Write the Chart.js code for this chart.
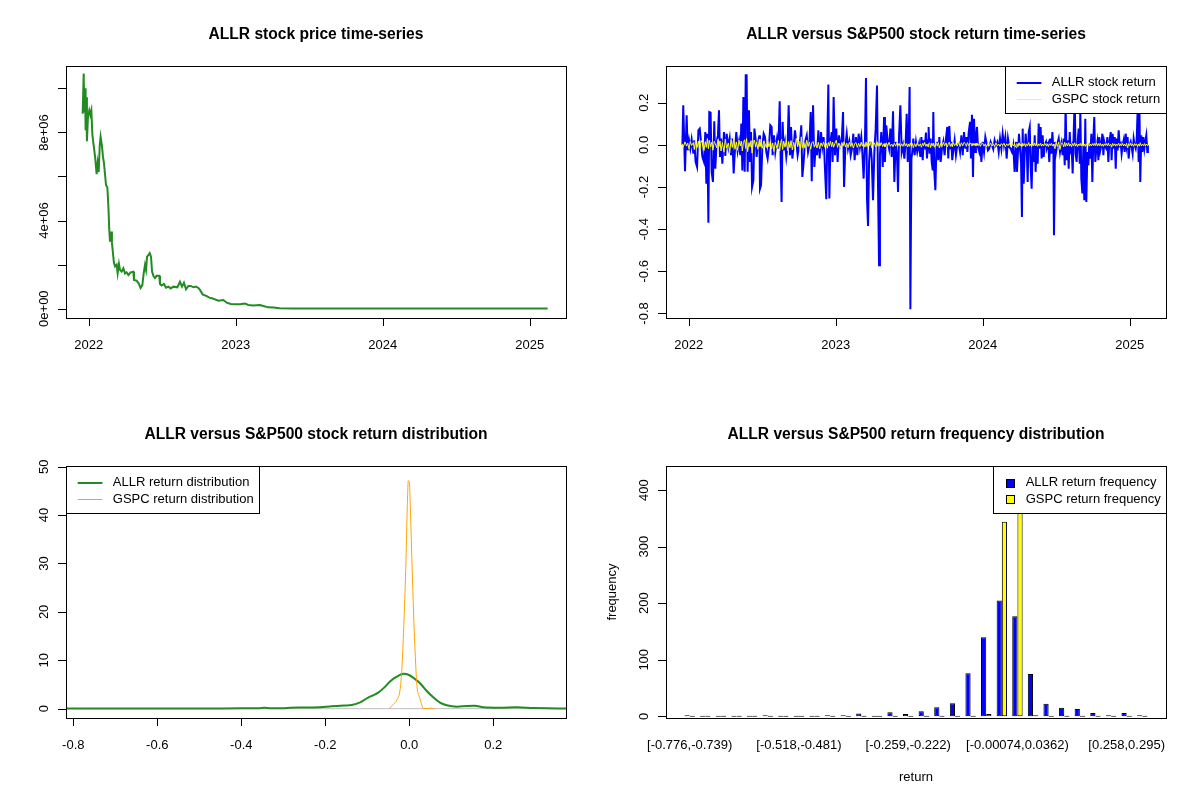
<!DOCTYPE html>
<html><head><meta charset="utf-8">
<script src="https://cdn.jsdelivr.net/npm/chart.js@4.4.1/dist/chart.umd.min.js"></script>
<style>
html,body{margin:0;padding:0;background:#fff;}
#wrap{position:relative;width:1200px;height:800px;background:#fff;overflow:hidden;}
canvas{position:absolute;}
</style></head><body>
<div id="wrap">
<canvas id="c1" width="600" height="400" style="left:0;top:0"></canvas>
<canvas id="c2" width="600" height="400" style="left:600px;top:0"></canvas>
<canvas id="c3" width="600" height="400" style="left:0;top:400px"></canvas>
<canvas id="c4" width="600" height="400" style="left:600px;top:400px"></canvas>
</div>
<script>
// ---------------- DATA ----------------
const titles = ['ALLR stock price time-series', 'ALLR versus S&P500 stock return time-series',
  'ALLR versus S&P500 stock return distribution', 'ALLR versus S&P500 return frequency distribution'];

// Panel 1: ALLR price (decimal year, price)
const priceYears = [2021.959,2021.966,2021.970,2021.975,2021.979,2021.984,2021.988,2021.995,2022.004,2022.011,
 2022.018,2022.025,2022.032,2022.038,2022.045,2022.054,2022.061,2022.068,2022.075,2022.081,
 2022.090,2022.097,2022.104,2022.111,2022.118,2022.127,2022.134,2022.140,2022.145,2022.152,
 2022.158,2022.165,2022.172,2022.179,2022.190,2022.197,2022.206,2022.213,2022.224,2022.236,
 2022.247,2022.258,2022.270,2022.285,2022.304,2022.308,2022.326,2022.340,2022.353,2022.365,
 2022.374,2022.383,2022.390,2022.397,2022.406,2022.415,2022.424,2022.431,2022.440,2022.451,
 2022.462,2022.480,2022.485,2022.496,2022.512,2022.526,2022.542,2022.558,2022.576,2022.603,
 2022.621,2022.635,2022.648,2022.662,2022.678,2022.694,2022.712,2022.730,2022.746,2022.757,
 2022.775,2022.803,2022.821,2022.839,2022.859,2022.882,2022.916,2022.939,2022.966,2022.995,
 2023.029,2023.063,2023.086,2023.120,2023.165,2023.188,2023.222,2023.257,2023.297,2023.393,
 2023.619,2024.073,2024.526,2025.122];
const priceValues = [8850000,10670000,8900000,10000000,8100000,9600000,7600000,8700000,9000000,8800000,
 9000000,7900000,7500000,7200000,6800000,6100000,6600000,6200000,7400000,7800000,
 7400000,6900000,6600000,6100000,5600000,5500000,4640000,3580000,3040000,3500000,
 3000000,2520000,2070000,1920000,2000000,1600000,2030000,1760000,1680000,1830000,
 1600000,1650000,1530000,1650000,1680000,1300000,1270000,1150000,940000,1070000,
 1600000,1980000,1760000,2360000,2430000,2520000,2360000,1680000,1490000,1390000,
 1490000,1490000,1120000,1050000,1120000,950000,1000000,920000,1000000,970000,
 1220000,1000000,1180000,880000,1030000,1030000,970000,1000000,940000,850000,
 650000,570000,500000,470000,420000,360000,390000,270000,210000,200000,
 200000,230000,170000,140000,170000,120000,60000,50000,20000,10000,
 10000,10000,10000,10000];

// Panel 2: daily returns (decimal year, ALLR return, GSPC return)
const retYears = [
 2021.957,2021.963,2021.975,2021.986,2021.993,2022.002,2022.011,2022.020,2022.032,2022.038,
 2022.047,2022.057,2022.066,2022.075,2022.084,2022.093,2022.104,2022.113,2022.120,2022.127,
 2022.134,2022.140,2022.149,2022.156,2022.165,2022.174,2022.181,2022.190,2022.199,2022.206,
 2022.213,2022.220,2022.229,2022.240,2022.249,2022.258,2022.270,2022.279,2022.288,2022.297,
 2022.306,2022.315,2022.324,2022.333,2022.342,2022.351,2022.358,2022.365,2022.372,2022.381,
 2022.388,2022.394,2022.401,2022.410,2022.417,2022.424,2022.431,2022.440,2022.447,2022.456,
 2022.462,2022.471,2022.481,2022.485,2022.492,2022.501,2022.510,2022.519,2022.528,2022.537,
 2022.546,2022.555,2022.564,2022.571,2022.580,2022.589,2022.601,2022.610,2022.619,2022.626,
 2022.632,2022.639,2022.646,2022.655,2022.664,2022.673,2022.680,2022.689,2022.696,2022.705,
 2022.714,2022.723,2022.732,2022.741,2022.750,2022.759,2022.766,2022.773,2022.782,2022.791,
 2022.803,2022.812,2022.821,2022.830,2022.837,2022.846,2022.855,2022.864,2022.873,2022.882,
 2022.891,2022.900,2022.909,2022.918,2022.927,2022.936,2022.943,2022.950,2022.957,2022.964,
 2022.973,2022.979,2022.986,2022.995,2023.004,2023.013,2023.022,2023.032,2023.041,2023.050,
 2023.057,2023.066,2023.075,2023.084,2023.093,2023.102,2023.111,2023.120,2023.129,2023.138,
 2023.147,2023.156,2023.165,2023.174,2023.181,2023.190,2023.199,2023.206,2023.213,2023.220,
 2023.227,2023.236,2023.245,2023.254,2023.263,2023.272,2023.281,2023.288,2023.295,2023.301,
 2023.310,2023.320,2023.329,2023.335,2023.344,2023.354,2023.363,2023.372,2023.381,2023.390,
 2023.399,2023.408,2023.417,2023.424,2023.431,2023.440,2023.449,2023.458,2023.467,2023.476,
 2023.483,2023.490,2023.496,2023.503,2023.508,2023.515,2023.521,2023.528,2023.537,2023.546,
 2023.555,2023.567,
 2023.576,2023.583,2023.592,2023.598,2023.605,2023.614,2023.621,2023.628,2023.632,2023.639,
 2023.646,2023.653,2023.660,2023.664,2023.671,2023.678,2023.685,2023.691,2023.698,2023.705,
 2023.714,2023.723,2023.732,2023.741,2023.750,2023.759,2023.766,2023.773,2023.780,2023.787,
 2023.793,2023.800,2023.809,2023.818,2023.827,2023.837,2023.846,2023.855,2023.864,2023.873,
 2023.882,2023.889,2023.896,2023.905,2023.914,2023.920,2023.927,2023.934,2023.941,2023.948,
 2023.954,2023.961,2023.968,2023.977,2023.984,2023.991,2024.000,2024.009,2024.018,2024.027,
 2024.036,2024.045,2024.054,2024.063,2024.072,2024.081,2024.090,2024.100,2024.109,2024.118,
 2024.127,2024.136,2024.145,2024.154,2024.163,2024.172,2024.181,2024.190,2024.199,2024.208,
 2024.217,2024.227,2024.233,2024.240,2024.247,2024.254,2024.261,2024.267,2024.272,2024.279,
 2024.286,2024.292,2024.299,2024.306,2024.313,2024.320,2024.326,2024.333,2024.340,2024.347,
 2024.354,2024.360,2024.367,2024.374,2024.381,2024.388,2024.394,2024.401,2024.408,2024.415,
 2024.422,2024.431,2024.437,2024.447,2024.453,2024.460,2024.467,2024.474,2024.481,2024.485,
 2024.492,2024.499,2024.508,2024.517,2024.526,2024.535,2024.544,2024.551,2024.558,2024.564,
 2024.571,2024.578,2024.585,2024.592,2024.598,2024.605,2024.612,2024.619,2024.626,2024.632,
 2024.639,2024.646,2024.653,2024.660,2024.664,2024.671,2024.678,2024.685,2024.691,2024.698,
 2024.705,2024.712,2024.719,2024.725,2024.732,2024.739,2024.746,2024.753,2024.759,2024.766,
 2024.773,2024.780,2024.787,2024.793,2024.800,2024.807,2024.814,2024.821,2024.827,2024.834,
 2024.841,2024.848,2024.855,2024.861,2024.871,2024.877,2024.884,2024.891,2024.898,2024.905,
 2024.911,2024.918,2024.925,2024.932,2024.939,2024.945,2024.952,2024.959,2024.966,2024.973,
 2024.979,2024.986,2024.993,2025.000,2025.007,2025.013,2025.020,2025.027,2025.034,2025.041,
 2025.047,2025.054,2025.061,2025.066,2025.072,2025.079,2025.086,2025.093,2025.100,2025.106,
 2025.113,2025.120,2025.124];
const allrReturn = [
 0.001,0.188,-0.125,0.140,-0.026,0.022,-0.018,0.026,-0.042,0.022,
 -0.081,-0.105,0.069,0.077,0.014,-0.057,-0.081,0.061,-0.184,0.053,
 -0.369,0.156,0.153,-0.128,-0.176,0.112,-0.113,0.014,0.045,0.164,
 -0.057,0.030,-0.089,0.061,-0.053,0.053,-0.010,0.030,-0.049,0.030,
 -0.136,-0.018,0.061,-0.026,0.014,-0.049,0.101,-0.121,0.227,-0.128,
 0.330,0.330,-0.128,0.164,-0.081,0.061,-0.200,-0.168,0.077,0.022,
 -0.057,0.006,0.045,-0.208,-0.192,-0.010,0.053,0.037,-0.034,-0.065,
 -0.010,0.093,0.085,-0.049,0.045,-0.034,0.030,-0.018,0.207,-0.081,
 -0.271,0.109,-0.026,0.014,-0.057,-0.002,0.188,-0.049,0.085,-0.065,
 -0.010,0.069,0.014,-0.049,-0.010,0.030,0.093,-0.152,-0.081,0.014,
 0.045,-0.034,-0.002,0.156,-0.173,0.188,-0.105,-0.002,-0.049,0.069,
 -0.065,0.061,-0.010,0.037,-0.113,-0.258,0.030,0.286,-0.255,0.014,
 0.061,-0.081,0.227,-0.049,0.077,-0.081,0.045,-0.002,0.017,0.156,
 -0.200,-0.002,0.053,-0.018,0.014,-0.049,-0.018,0.053,-0.073,0.037,
 -0.049,0.053,-0.010,0.037,-0.034,-0.160,0.014,0.317,-0.255,-0.385,
 -0.081,0.014,-0.065,-0.263,-0.034,0.077,0.282,-0.200,-0.571,-0.049,
 0.061,-0.105,0.132,-0.081,0.093,0.014,-0.018,0.077,-0.057,0.159,
 -0.176,0.014,-0.049,-0.223,0.045,0.188,-0.034,-0.002,-0.065,0.014,
 0.148,-0.081,0.006,0.274,-0.780,-0.065,-0.034,0.030,-0.049,0.014,
 -0.034,0.006,
 -0.057,0.037,-0.073,0.022,-0.021,0.058,-0.065,0.022,0.085,-0.042,
 0.030,-0.081,-0.121,0.156,-0.128,-0.215,-0.018,0.014,-0.073,0.037,
 -0.081,-0.018,0.014,-0.049,0.030,0.085,-0.065,0.089,-0.021,0.014,
 -0.073,-0.026,0.022,-0.049,-0.002,0.006,-0.034,0.045,-0.049,0.061,
 -0.018,0.037,-0.034,0.061,0.109,-0.065,0.143,-0.152,0.124,-0.034,
 0.030,0.085,-0.010,-0.034,0.006,-0.081,0.014,-0.034,0.037,0.006,
 -0.026,-0.018,0.014,-0.002,-0.021,0.022,-0.002,0.014,-0.034,0.030,
 -0.018,0.053,-0.002,0.037,-0.065,0.030,-0.010,-0.018,-0.034,-0.002,
 -0.128,0.014,-0.128,-0.034,0.053,-0.018,-0.081,-0.342,0.077,-0.184,
 -0.034,0.053,-0.002,-0.176,0.061,0.085,-0.097,-0.208,-0.002,-0.081,
 0.045,-0.128,-0.002,-0.089,0.101,-0.018,0.085,-0.065,0.045,-0.057,
 -0.002,0.014,-0.015,0.006,-0.081,0.030,-0.042,0.061,-0.026,-0.429,
 0.014,-0.034,0.006,0.030,-0.034,0.006,-0.049,0.030,-0.097,0.190,
 -0.073,0.022,-0.113,0.061,-0.026,-0.010,-0.136,0.053,0.220,-0.042,
 -0.081,0.014,0.077,-0.089,0.170,-0.160,-0.231,-0.002,-0.263,0.124,
 -0.271,-0.034,-0.097,0.006,-0.065,0.053,-0.176,0.030,0.132,-0.081,
 -0.018,0.014,-0.073,0.037,-0.026,-0.002,0.053,-0.049,0.014,-0.010,
 -0.018,0.037,-0.081,0.006,0.061,-0.073,0.053,-0.018,0.037,-0.113,
 0.030,-0.026,0.069,-0.002,0.006,-0.042,-0.002,0.022,-0.034,0.053,
 -0.002,0.037,-0.065,-0.002,0.014,-0.010,-0.042,0.030,-0.002,-0.018,
 0.014,0.160,-0.081,0.200,-0.176,0.045,-0.034,0.037,-0.018,0.014,
 0.045,-0.034,-0.002];
const gspcReturn = [
 0.005,-0.011,0.014,-0.006,0.009,-0.019,0.016,-0.003,0.011,-0.022,
 0.024,-0.013,0.018,-0.031,0.021,0.008,-0.027,0.015,-0.012,0.030,
 -0.018,0.022,-0.009,0.012,-0.025,0.017,0.006,-0.014,0.026,-0.008,
 0.019,-0.029,0.011,-0.035,0.028,-0.015,0.009,-0.038,0.025,-0.012,
 0.031,-0.021,0.014,-0.026,0.022,-0.005,0.018,-0.029,0.012,0.024,
 -0.017,0.030,-0.032,0.011,-0.009,0.020,-0.039,0.016,0.023,-0.011,
 0.014,-0.021,0.027,-0.008,0.012,-0.016,0.019,0.006,-0.013,0.022,
 -0.010,0.015,-0.020,0.009,-0.032,0.013,-0.017,0.021,-0.029,0.011,
 0.026,-0.022,0.018,-0.011,0.024,-0.028,0.016,-0.014,0.020,-0.024,
 0.012,-0.018,0.031,-0.009,0.017,-0.025,0.038,-0.013,0.019,-0.016,
 0.022,-0.008,0.014,-0.021,0.009,0.016,-0.011,0.006,-0.015,0.012,
 -0.019,0.010,-0.007,0.014,-0.012,0.008,-0.016,0.011,-0.006,0.018,
 -0.009,0.013,-0.011,0.007,0.022,-0.012,0.009,-0.014,0.011,-0.006,
 0.015,-0.010,0.008,-0.013,0.012,-0.007,0.010,-0.015,0.006,0.011,
 -0.012,0.007,-0.009,0.013,-0.006,0.010,-0.011,0.014,-0.008,0.009,
 -0.005,0.012,-0.013,0.006,0.009,-0.010,0.015,-0.007,0.008,-0.004,
 0.011,-0.008,0.006,-0.010,0.009,-0.005,0.012,-0.007,0.004,-0.009,
 0.008,-0.006,0.010,-0.004,0.007,-0.009,0.005,-0.007,0.011,-0.005,
 0.006,-0.010,0.004,-0.007,0.009,-0.005,0.007,-0.013,0.006,-0.008,
 0.010,-0.006,
 0.005,-0.011,0.008,-0.004,0.012,-0.007,0.004,-0.009,0.006,0.010,
 -0.013,0.007,-0.005,0.009,-0.011,0.004,0.008,-0.006,0.011,-0.014,
 0.006,-0.008,0.012,-0.005,0.009,-0.010,0.005,0.013,-0.007,0.006,
 -0.009,0.011,-0.004,0.007,-0.006,0.014,-0.008,0.010,-0.005,0.012,
 0.006,-0.007,0.011,-0.004,0.009,0.005,-0.006,0.008,-0.003,0.007,
 -0.005,0.009,-0.004,0.006,-0.007,0.004,0.008,-0.006,0.005,-0.009,
 0.007,-0.004,0.009,-0.006,0.005,-0.008,0.010,-0.005,0.004,-0.007,
 0.006,-0.003,0.008,-0.009,0.005,-0.004,0.007,-0.006,0.009,-0.005,
 0.004,-0.012,0.006,-0.008,0.010,-0.005,0.004,-0.007,0.008,-0.004,
 0.006,-0.009,0.005,-0.004,0.011,-0.006,0.004,-0.008,0.007,-0.005,
 0.009,-0.004,0.006,-0.007,0.005,-0.003,0.008,-0.006,0.004,-0.005,
 0.007,-0.004,0.006,-0.008,0.005,-0.003,0.007,-0.005,0.004,-0.006,
 -0.018,0.011,-0.008,0.014,-0.022,0.009,0.006,-0.010,0.012,-0.007,
 0.008,-0.005,0.010,-0.006,0.004,-0.009,0.007,-0.004,0.010,-0.006,
 0.005,-0.008,0.004,-0.003,0.007,-0.005,0.009,-0.006,0.004,-0.007,
 0.005,-0.004,0.008,-0.006,0.004,-0.005,0.006,-0.003,0.007,-0.004,
 0.010,-0.005,0.006,-0.004,0.008,-0.006,0.004,-0.007,0.005,-0.003,
 0.006,-0.004,0.009,-0.005,0.003,-0.011,0.007,-0.004,0.005,-0.006,
 0.004,-0.003,0.008,-0.006,0.005,-0.004,0.007,-0.005,0.003,-0.006,
 0.008,-0.015,0.006,-0.004,0.009,-0.005,0.004,-0.007,0.006,-0.003,
 0.005,-0.008,0.004,-0.006,0.010,-0.005,0.003,-0.004,0.006,-0.005,
 0.004,-0.003,0.002];

// Panel 3: kernel density estimates
const allrDensX = [-0.817,-0.773,-0.70,-0.60,-0.50,-0.40,-0.36,-0.345,-0.33,-0.30,-0.283,-0.25,-0.213,-0.19,-0.173,-0.155,-0.137,-0.117,-0.098,-0.085,-0.074,
 -0.058,-0.046,-0.030,-0.014,-0.002,0.014,0.026,0.041,0.057,0.073,0.089,0.113,0.137,0.156,0.176,0.216,0.256,0.295,0.329,0.373];
const allrDensY = [0.05,0.05,0.05,0.05,0.05,0.06,0.08,0.2,0.1,0.1,0.2,0.22,0.3,0.45,0.56,0.65,0.76,1.3,2.3,2.8,3.3,
 4.5,5.6,6.6,7.2,7.0,6.1,5.2,3.7,2.35,1.24,0.7,0.41,0.56,0.6,0.3,0.21,0.28,0.14,0.07,0.05];
const gspcDensX = [-0.048,-0.038,-0.0286,-0.0221,-0.0174,-0.0126,-0.0079,-0.0048,-0.0024,0.0,0.0024,0.0064,0.0105,0.0143,0.0183,0.0238,0.0286,0.0333,0.045,0.050,0.055,0.060];
const gspcDensY = [0.0,0.9,1.94,3.86,8.7,18.3,30.7,41.7,47.1,46.9,41.7,30.1,19.1,10.8,4.6,2.5,1.1,0.05,0.02,0.15,0.02,0.0];

// Panel 4: histogram bins and frequencies
const binLabels = ['[-0.776,-0.739)','[-0.739,-0.702)','[-0.702,-0.665)','[-0.665,-0.628)','[-0.628,-0.591)',
 '[-0.591,-0.554)','[-0.554,-0.518)','[-0.518,-0.481)','[-0.481,-0.444)','[-0.444,-0.407)',
 '[-0.407,-0.37)','[-0.37,-0.333)','[-0.333,-0.296)','[-0.296,-0.259)','[-0.259,-0.222)',
 '[-0.222,-0.185)','[-0.185,-0.148)','[-0.148,-0.111)','[-0.111,-0.0745)','[-0.0745,-0.0376)',
 '[-0.0376,-0.00074)','[-0.00074,0.0362)','[0.0362,0.0731)','[0.0731,0.11)','[0.11,0.147)',
 '[0.147,0.184)','[0.184,0.221)','[0.221,0.258)','[0.258,0.295)','[0.295,0.332)'];
const allrFreq = [1,0,0,0,0,1,0,0,0,1,1,5,0,7,4,9,16,23,76,140,205,177,75,22,15,13,6,2,6,2];
const gspcFreq = [0,0,0,0,0,0,0,0,0,0,0,0,0,0,0,0,0,0,0,4,344,440,1,0,0,0,0,0,0,0];

// Tick values / labels
const yearTicks = [2022,2023,2024,2025];
const yearTickLabels = ['2022','2023','2024','2025'];
const priceTicks = [0,2e6,4e6,6e6,8e6,1e7];
const priceTickLabels = ['0e+00','','4e+06','','8e+06',''];
const returnTicks = [-0.8,-0.6,-0.4,-0.2,0,0.2];
const returnTickLabels = ['-0.8','-0.6','-0.4','-0.2','0.0','0.2'];
const densTicks = [0,10,20,30,40,50];
const densTickLabels = ['0','10','20','30','40','50'];
const freqTicks = [0,100,200,300,400];
const freqTickLabels = ['0','100','200','300','400'];

// ---------------- STYLE / HELPERS ----------------
const FONT = '"Liberation Sans", Arial, Helvetica, sans-serif';
const BLUE = '#0000FF', YELLOW = '#FFFF00', GREEN = '#228B22', ORANGE = '#FFA500', GRAY = '#BEBEBE';
Chart.defaults.font.family = FONT;
Chart.defaults.color = '#000';

function seg(ctx, x1, y1, x2, y2) { ctx.beginPath(); ctx.moveTo(x1, y1); ctx.lineTo(x2, y2); ctx.stroke(); }
const crisp = v => Math.round(v) + 0.5;

const rStyle = {
  id: 'rStyle',
  afterDraw(chart, args, o) {
    const ctx = chart.ctx, a = chart.chartArea;
    const xs = chart.scales.x, ys = chart.scales.y;
    const L = Math.round(a.left), R = Math.round(a.right), T = Math.round(a.top), B = Math.round(a.bottom);
    ctx.save();
    ctx.lineWidth = 1; ctx.strokeStyle = '#000'; ctx.fillStyle = '#000';
    ctx.font = '13px ' + FONT;
    ctx.textAlign = 'center'; ctx.textBaseline = 'alphabetic';
    (o.xTicks || []).forEach((v, i) => {
      const px = xs.getPixelForValue(v);
      if (o.xMarks !== false) seg(ctx, crisp(px), B, crisp(px), B + 8);
      const lab = o.xLabels[i];
      if (lab) ctx.fillText(lab, px, B + 30.5);
    });
    (o.yTicks || []).forEach((v, i) => {
      const py = ys.getPixelForValue(v);
      seg(ctx, L - 8, crisp(py), L, crisp(py));
      const lab = o.yLabels[i];
      if (lab) {
        ctx.save(); ctx.translate(L - 17.6, py); ctx.rotate(-Math.PI / 2);
        ctx.textAlign = 'center'; ctx.textBaseline = 'alphabetic';
        ctx.fillText(lab, 0, 0); ctx.restore();
      }
    });
    if (o.xTitle) { ctx.textAlign = 'center'; ctx.fillText(o.xTitle, (a.left + a.right) / 2, B + 62.7); }
    if (o.yTitle) {
      ctx.save(); ctx.translate(L - 50.5, (a.top + a.bottom) / 2); ctx.rotate(-Math.PI / 2);
      ctx.textAlign = 'center'; ctx.textBaseline = 'alphabetic'; ctx.fillText(o.yTitle, 0, 0); ctx.restore();
    }
    ctx.strokeStyle = '#000'; ctx.lineWidth = 1;
    ctx.strokeRect(L + 0.5, T + 0.5, R - L, B - T);
    if (o.legend) {
      const lg = o.legend;
      ctx.font = '13px ' + FONT;
      const tw = Math.max(...lg.items.map(it => ctx.measureText(it.label).width));
      const tx = lg.kind === 'box' ? 32.7 : 46.8;
      const w = Math.round(tx + tw + 5.5), h = 47;
      const left = lg.pos === 'topright' ? R - w : L;
      const top = T;
      ctx.fillStyle = '#fff'; ctx.fillRect(left, top, w, h);
      ctx.strokeStyle = '#000'; ctx.lineWidth = 1;
      ctx.strokeRect(left + 0.5, top + 0.5, w, h);
      lg.items.forEach((it, i) => {
        const cy = top + 16.8 + 16.2 * i;
        if (lg.kind === 'box') {
          const bx = Math.round(left + 12.5), by = Math.round(cy - 4);
          ctx.fillStyle = it.color; ctx.fillRect(bx, by, 8, 8);
          ctx.strokeStyle = '#000'; ctx.lineWidth = 1; ctx.strokeRect(bx + 0.5, by + 0.5, 8, 8);
        } else {
          ctx.strokeStyle = it.color; ctx.lineWidth = it.lw;
          const yy = Math.round(cy) + (it.lw % 2 ? 0.5 : 0);
          seg(ctx, left + 11.7, yy, left + 36.4, yy);
        }
        ctx.fillStyle = '#000'; ctx.textAlign = 'left'; ctx.textBaseline = 'middle';
        ctx.fillText(it.label, left + tx, cy);
      });
    }
    ctx.restore();
  }
};

function baseOptions(title, xr, yr, rs) {
  return {
    responsive: false, animation: false, devicePixelRatio: 1, events: [],
    layout: { padding: { left: 66, right: 34, top: 0, bottom: 82 } },
    scales: {
      x: { type: 'linear', display: false, min: xr[0], max: xr[1], offset: false },
      y: { type: 'linear', display: false, min: yr[0], max: yr[1] }
    },
    plugins: {
      legend: { display: false }, tooltip: { enabled: false },
      title: { display: true, text: title, fullSize: false, color: '#000',
        font: { size: 15.6, weight: 'bold', family: FONT, lineHeight: 1.2 },
        padding: { top: 25, bottom: 22.3 } },
      rStyle: rs
    }
  };
}
const pts = (xs, ys) => xs.map((x, i) => ({ x: x, y: ys[i] }));
const YEAR_RANGE = [2021.8456, 2025.247];

// ---------------- PANEL 1 ----------------
new Chart(document.getElementById('c1'), {
  type: 'line',
  data: { datasets: [{ label: 'ALLR price', data: pts(priceYears, priceValues), borderColor: GREEN, borderWidth: 2,
    pointRadius: 0, tension: 0, fill: false }] },
  options: baseOptions(titles[0], YEAR_RANGE, [-423500, 11014000],
    { xTicks: yearTicks, xLabels: yearTickLabels, yTicks: priceTicks, yLabels: priceTickLabels }),
  plugins: [rStyle]
});

// ---------------- PANEL 2 ----------------
const nRet = Math.min(retYears.length, allrReturn.length, gspcReturn.length);
const retIdx = retYears.slice(0, nRet);
new Chart(document.getElementById('c2'), {
  type: 'line',
  data: { datasets: [
    { label: 'GSPC stock return', data: pts(retIdx, gspcReturn), borderColor: YELLOW, borderWidth: 1, pointRadius: 0, tension: 0, order: 0 },
    { label: 'ALLR stock return', data: pts(retIdx, allrReturn), borderColor: BLUE, borderWidth: 2, pointRadius: 0, tension: 0, order: 1 }
  ] },
  options: baseOptions(titles[1], YEAR_RANGE, [-0.8215, 0.3741],
    { xTicks: yearTicks, xLabels: yearTickLabels, yTicks: returnTicks, yLabels: returnTickLabels,
      legend: { pos: 'topright', kind: 'line', items: [
        { label: 'ALLR stock return', color: BLUE, lw: 2 },
        { label: 'GSPC stock return', color: YELLOW, lw: 1 } ] } }),
  plugins: [rStyle]
});

// ---------------- PANEL 3 ----------------
const BL_X = [-0.8174, 0.3731];
new Chart(document.getElementById('c3'), {
  type: 'line',
  data: { datasets: [
    { label: 'zero', data: [{ x: BL_X[0], y: 0 }, { x: BL_X[1], y: 0 }], borderColor: GRAY, borderWidth: 1, pointRadius: 0, order: 2 },
    { label: 'ALLR return distribution', data: pts(allrDensX, allrDensY), borderColor: GREEN, borderWidth: 2, pointRadius: 0,
      cubicInterpolationMode: 'monotone', order: 1 },
    { label: 'GSPC return distribution', data: pts(gspcDensX, gspcDensY), borderColor: ORANGE, borderWidth: 1, pointRadius: 0,
      cubicInterpolationMode: 'monotone', order: 0 }
  ] },
  options: baseOptions(titles[2], BL_X, [-1.93, 50.14],
    { xTicks: returnTicks, xLabels: returnTickLabels, yTicks: densTicks, yLabels: densTickLabels,
      legend: { pos: 'topleft', kind: 'line', items: [
        { label: 'ALLR return distribution', color: GREEN, lw: 2 },
        { label: 'GSPC return distribution', color: ORANGE, lw: 1 } ] } }),
  plugins: [rStyle]
});

// ---------------- PANEL 4 ----------------
// R barplot(beside=TRUE): each group = 1 space + 2 bars; group centre at 3*i + 2
const groupPos = binLabels.map((_, i) => 3 * i + 2);
const shownBin = binLabels.map((lab, i) => (i % 7 === 0 ? lab : ''));
const barCommon = { borderColor: '#000', borderWidth: 1, borderSkipped: false, minBarLength: 1,
  categoryPercentage: 2 / 3, barPercentage: 1 };
new Chart(document.getElementById('c4'), {
  type: 'bar',
  data: { datasets: [
    Object.assign({ label: 'ALLR return frequency', data: pts(groupPos, allrFreq), backgroundColor: BLUE }, barCommon),
    Object.assign({ label: 'GSPC return frequency', data: pts(groupPos, gspcFreq), backgroundColor: YELLOW }, barCommon)
  ] },
  options: baseOptions(titles[3], [-2.56, 93.56], [-3, 442.7],
    { xTicks: groupPos, xLabels: shownBin, xMarks: false, yTicks: freqTicks, yLabels: freqTickLabels,
      xTitle: 'return', yTitle: 'frequency',
      legend: { pos: 'topright', kind: 'box', items: [
        { label: 'ALLR return frequency', color: BLUE },
        { label: 'GSPC return frequency', color: YELLOW } ] } }),
  plugins: [rStyle]
});
</script>
</body></html>
